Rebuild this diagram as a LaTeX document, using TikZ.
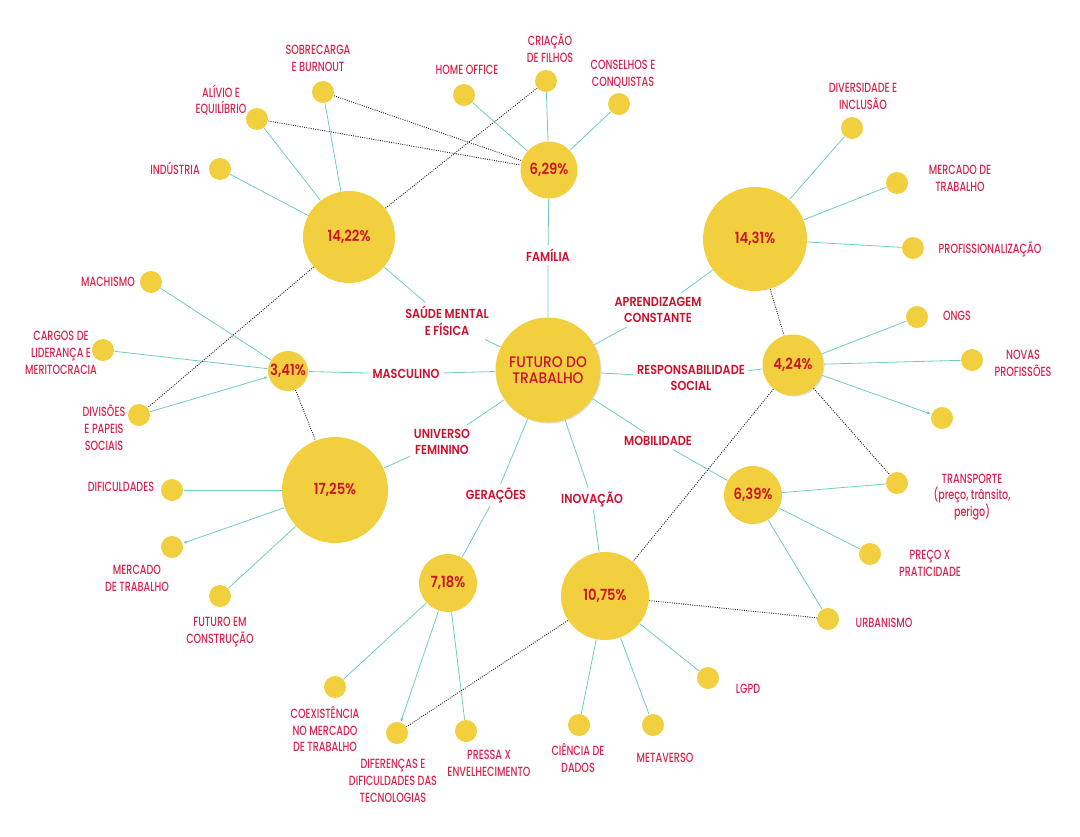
\documentclass[tikz,border=0pt]{standalone}
\usepackage{fontspec}
\setmainfont{Poppins}[FakeStretch=0.8]
\newfontfamily\leaffont{Poppins Medium}[FakeStretch=0.72]
\newfontfamily\centerfont{Poppins Medium}[FakeStretch=0.9]
\newfontfamily\branchfont{Poppins SemiBold}[FakeStretch=0.86]
\usetikzlibrary{arrows.meta,shadows}

\definecolor{hubyellow}{RGB}{242,207,62}
\definecolor{leafred}{RGB}{216,35,79}
\definecolor{branchred}{RGB}{204,16,46}
\definecolor{pctred}{RGB}{204,20,36}
\definecolor{linkteal}{RGB}{111,205,192}

\tikzset{every picture/.style={line width=0.75pt}}
\tikzset{
  hub/.style={circle, fill=hubyellow, inner sep=0pt, text=pctred, font=\branchfont\fontsize{11.5}{13}\selectfont},
  leaf/.style={circle, fill=hubyellow, inner sep=0pt, minimum size=16.5pt},
  leaflabel/.style={text=leafred, align=center, inner sep=0pt, font=\leaffont\fontsize{10}{12.6}\selectfont},
  branchlabel/.style={text=branchred, align=center, inner sep=2.5pt, font=\branchfont\fontsize{9.8}{12.6}\selectfont},
  link/.style={draw=linkteal, line width=0.6pt},
  crosslink/.style={draw=black!85, densely dotted, line width=0.7pt},
  arrowend/.style={-{Latex[length=3pt,width=2.4pt]}},
  softshadow/.style={drop shadow={opacity=0.25, shadow xshift=0.8pt, shadow yshift=-0.8pt}},
}

\begin{document}
\begin{tikzpicture}[x=0.75pt,y=0.75pt,yscale=-1,xscale=1]
\path[use as bounding box] (0,0) rectangle (1080,836);

% Central Node
\node[hub, softshadow, minimum size=78.75pt, text=branchred, align=center, font=\centerfont\fontsize{11.5}{12}\selectfont] (futuro) at (548,370) {FUTURO DO\\TRABALHO};

% Hub Nodes
\node[hub, minimum size=42.75pt] (h629) at (549,170) {6,29\%};
\node[hub, minimum size=69pt] (h1422) at (349,237) {14,22\%};
\node[hub, minimum size=78pt] (h1431) at (755,239) {14,31\%};
\node[hub, minimum size=30pt] (h341) at (288,371) {3,41\%};
\node[hub, minimum size=79.5pt] (h1725) at (335,490) {17,25\%};
\node[hub, softshadow, minimum size=45.75pt] (h424) at (793,365) {4,24\%};
\node[hub, minimum size=43.5pt] (h639) at (753,495) {6,39\%};
\node[hub, minimum size=43.5pt] (h718) at (448,583) {7,18\%};
\node[hub, minimum size=66pt] (h1075) at (605,596) {10,75\%};

% Branch Labels
\node[branchlabel] (bfamilia) at (548,255) {FAMÍLIA};
\node[branchlabel] (bsaude) at (447,321) {SAÚDE MENTAL\\E FÍSICA};
\node[branchlabel] (baprend) at (658,310) {APRENDIZAGEM\\CONSTANTE};
\node[branchlabel] (bmasc) at (406,374) {MASCULINO};
\node[branchlabel] (bresp) at (691,378) {RESPONSABILIDADE\\SOCIAL};
\node[branchlabel] (bfem) at (442,442) {UNIVERSO\\FEMININO};
\node[branchlabel] (bmobil) at (658,441) {MOBILIDADE};
\node[branchlabel] (bgera) at (496,495) {GERAÇÕES};
\node[branchlabel] (binova) at (592,499) {INOVAÇÃO};

% Leaf Nodes
\node[leaf] (lsobrecarga) at (323,92) {};
\node[leaf] (lalivio) at (257,119) {};
\node[leaf] (lindustria) at (220,169) {};
\node[leaf] (lhome) at (464,95) {};
\node[leaf] (lcriacao) at (546,81) {};
\node[leaf] (lconselhos) at (619,104) {};
\node[leaf] (ldiversidade) at (852,128) {};
\node[leaf] (lmercadoR) at (897,183) {};
\node[leaf] (lprofiss) at (913,248) {};
\node[leaf] (longs) at (917,317) {};
\node[leaf] (lnovas) at (972,360) {};
\node[leaf] (lblank) at (942,418) {};
\node[leaf] (ltransporte) at (897,483) {};
\node[leaf] (lpreco) at (870,554) {};
\node[leaf] (lurbanismo) at (828,619) {};
\node[leaf] (llgpd) at (708,678) {};
\node[leaf] (lmetaverso) at (653,725) {};
\node[leaf] (lciencia) at (579,725) {};
\node[leaf] (lpressa) at (466,731) {};
\node[leaf] (ldiferencas) at (397,733) {};
\node[leaf] (lcoexist) at (335,687) {};
\node[leaf] (lfuturoC) at (220,596) {};
\node[leaf] (lmercadoL) at (172,547) {};
\node[leaf] (ldificuldades) at (172,490) {};
\node[leaf] (ldivisoes) at (139,415) {};
\node[leaf] (lcargos) at (103,350) {};
\node[leaf] (lmachismo) at (151,282) {};

% Leaf Labels
\node[leaflabel] (tsobrecarga) at (318,58) {SOBRECARGA\\E BURNOUT};
\node[leaflabel] (talivio) at (221,100) {ALÍVIO E\\EQUILÍBRIO};
\node[leaflabel] (tindustria) at (175,168) {INDÚSTRIA};
\node[leaflabel] (thome) at (467,70) {HOME OFFICE};
\node[leaflabel] (tcriacao) at (550,48) {CRIAÇÃO\\DE FILHOS};
\node[leaflabel] (tconselhos) at (623,74) {CONSELHOS E\\CONQUISTAS};
\node[leaflabel] (tdiversidade) at (863,96) {DIVERSIDADE E\\INCLUSÃO};
\node[leaflabel] (tmercadoR) at (960,178) {MERCADO DE\\TRABALHO};
\node[leaflabel] (tprofiss) at (990,249) {PROFISSIONALIZAÇÃO};
\node[leaflabel] (tongs) at (957,316) {ONGS};
\node[leaflabel] (tnovas) at (1023,363) {NOVAS\\PROFISSÕES};
\node[leaflabel] (ttransporte) at (972,497) {TRANSPORTE\\(preço, trânsito,\\perigo)};
\node[leaflabel] (tpreco) at (930,563) {PREÇO X\\PRATICIDADE};
\node[leaflabel] (turbanismo) at (884,623) {URBANISMO};
\node[leaflabel] (tlgpd) at (748,689) {LGPD};
\node[leaflabel] (tmetaverso) at (665,758) {METAVERSO};
\node[leaflabel] (tciencia) at (578,758) {CIÊNCIA DE\\DADOS};
\node[leaflabel] (tpressa) at (489,763) {PRESSA X\\ENVELHECIMENTO};
\node[leaflabel] (tdiferencas) at (393,781) {DIFERENÇAS E\\DIFICULDADES DAS\\TECNOLOGIAS};
\node[leaflabel] (tcoexist) at (325,729) {COEXISTÊNCIA\\NO MERCADO\\DE TRABALHO};
\node[leaflabel] (tfuturoC) at (220,632) {FUTURO EM\\CONSTRUÇÃO};
\node[leaflabel] (tmercadoL) at (137,578) {MERCADO\\DE TRABALHO};
\node[leaflabel] (tdificuldades) at (121,487) {DIFICULDADES};
\node[leaflabel] (tdivisoes) at (104,428) {DIVISÕES\\E PAPEIS\\SOCIAIS};
\node[leaflabel] (tcargos) at (61,353) {CARGOS DE\\LIDERANÇA E\\MERITOCRACIA};
\node[leaflabel] (tmachismo) at (108,282) {MACHISMO};

% Connection: branches
\foreach \hubname/\labname in {h629/bfamilia, h1422/bsaude, h1431/baprend, h341/bmasc, h424/bresp, h1725/bfem, h639/bmobil, h718/bgera, h1075/binova}
  {\draw[link] (futuro) -- (\labname) -- (\hubname);}

% Connection: leaves
\foreach \hubname/\leafname in {h629/lhome, h629/lcriacao, h629/lconselhos,
  h1422/lsobrecarga, h1422/lalivio, h1422/lindustria,
  h1431/ldiversidade, h1431/lmercadoR, h1431/lprofiss,
  h341/lmachismo, h341/lcargos,
  h1725/ldificuldades, h1725/lfuturoC,
  h424/longs, h424/lnovas,
  h639/ltransporte, h639/lpreco, h639/lurbanismo,
  h718/lcoexist, h718/lpressa,
  h1075/lciencia, h1075/lmetaverso, h1075/llgpd}
  {\draw[link] (\hubname) -- (\leafname);}
\draw[link, arrowend] (ldivisoes) -- (h341);
\draw[link, arrowend] (h1725) -- (lmercadoL);
\draw[link, arrowend] (h424) -- (lblank);
\draw[link, arrowend] (h718) -- (ldiferencas);

% Connection: dotted cross links
\draw[crosslink] (lsobrecarga) -- (h629);
\draw[crosslink] (lalivio) -- (h629);
\draw[crosslink] (h1422) -- (lcriacao);
\draw[crosslink] (h1422) -- (ldivisoes);
\draw[crosslink] (h341) -- (h1725);
\draw[crosslink] (h1431) -- (h424);
\draw[crosslink] (h424) -- (ltransporte);
\draw[crosslink] (h424) -- (h1075);
\draw[crosslink] (h1075) -- (lurbanismo);
\draw[crosslink] (h1075) -- (ldiferencas);

\end{tikzpicture}
\end{document}
